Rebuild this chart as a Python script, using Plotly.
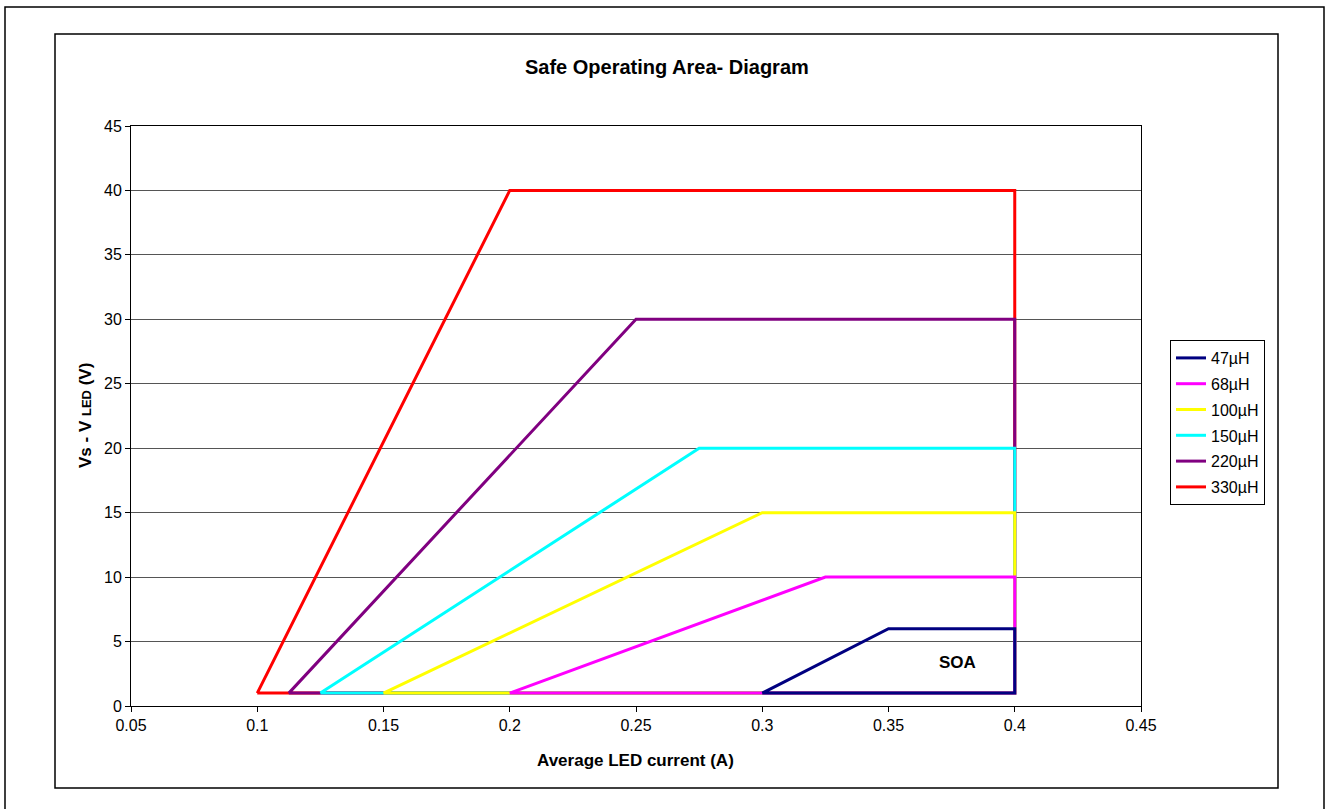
import plotly.graph_objects as go

# Data
series_names = ["47µH", "68µH", "100µH", "150µH", "220µH", "330µH"]
series_colors = ["#000080", "#FF00FF", "#FFFF00", "#00FFFF", "#800080", "#FF0000"]
x_47 = [0.3, 0.35, 0.4, 0.4, 0.3]
y_47 = [1, 6, 6, 1, 1]
x_68 = [0.2, 0.325, 0.4, 0.4, 0.2]
y_68 = [1, 10, 10, 1, 1]
x_100 = [0.15, 0.3, 0.4, 0.4, 0.15]
y_100 = [1, 15, 15, 1, 1]
x_150 = [0.125, 0.275, 0.4, 0.4, 0.125]
y_150 = [1, 20, 20, 1, 1]
x_220 = [0.1125, 0.25, 0.4, 0.4, 0.1125]
y_220 = [1, 30, 30, 1, 1]
x_330 = [0.1, 0.2, 0.4, 0.4, 0.1]
y_330 = [1, 40, 40, 1, 1]
xs = [x_47, x_68, x_100, x_150, x_220, x_330]
ys = [y_47, y_68, y_100, y_150, y_220, y_330]
x_ticks = [0.05, 0.1, 0.15, 0.2, 0.25, 0.3, 0.35, 0.4, 0.45]
x_tick_labels = ["0.05", "0.1", "0.15", "0.2", "0.25", "0.3", "0.35", "0.4", "0.45"]
y_ticks = [0, 5, 10, 15, 20, 25, 30, 35, 40, 45]

W, H = 1329, 809
L, R, T, B = 131, 1141, 126, 706
pw, ph = R - L, B - T


def px(x):
    return (x - L) / pw


def py(y):
    return (B - y) / ph


FONT = "Liberation Sans, Arial, sans-serif"

fig = go.Figure()
# draw largest first so smaller inductances are on top
for i in reversed(range(len(series_names))):
    fig.add_trace(go.Scatter(
        x=xs[i], y=ys[i], mode="lines", name=series_names[i],
        legendgroup=series_names[i], legendrank=i + 1,
        line=dict(color=series_colors[i], width=3),
        hoverinfo="x+y+name",
    ))

shapes = [
    # outer frame
    dict(type="rect", xref="paper", yref="paper", x0=px(5), x1=px(1324), y0=py(7), y1=py(815),
         line=dict(color="black", width=1.5), layer="below"),
    # chart frame
    dict(type="rect", xref="paper", yref="paper", x0=px(55), x1=px(1278), y0=py(34), y1=py(788),
         line=dict(color="black", width=1.5), layer="below"),
]

annotations = [
    dict(text="<b>Safe Operating Area- Diagram</b>", xref="paper", yref="paper",
         x=px(667), y=py(67), showarrow=False, font=dict(size=20, family=FONT, color="black"),
         xanchor="center", yanchor="middle"),
    dict(text="<b>Average LED current (A)</b>", xref="paper", yref="paper",
         x=px(635), y=py(760), showarrow=False, font=dict(size=17, family=FONT, color="black"),
         xanchor="center", yanchor="middle"),
    dict(text="<b>Vs - V <span style='font-size:13px'>LED</span> (V)</b>", xref="paper", yref="paper",
         x=px(85), y=py(416), showarrow=False, textangle=-90,
         font=dict(size=17, family=FONT, color="black"),
         xanchor="center", yanchor="middle"),
    dict(text="<b>SOA</b>", xref="x", yref="y", x=0.3775, y=3.35, showarrow=False,
         font=dict(size=17, family=FONT, color="black"), xanchor="center", yanchor="middle"),
]

fig.update_layout(
    width=W, height=H,
    margin=dict(l=L, r=W - R, t=T, b=H - B, pad=0),
    paper_bgcolor="white", plot_bgcolor="white",
    font=dict(family=FONT, size=16, color="black"),
    showlegend=True,
    legend=dict(
        x=px(1170), y=py(340), xanchor="left", yanchor="top",
        traceorder="grouped", tracegroupgap=2,
        bordercolor="black", borderwidth=1, bgcolor="white",
        font=dict(size=16, family=FONT, color="black"),
        itemwidth=30,
    ),
    shapes=shapes,
    annotations=annotations,
    xaxis=dict(
        range=[0.05, 0.45], tickvals=x_ticks, ticktext=x_tick_labels,
        showgrid=False, zeroline=False,
        showline=True, linecolor="black", linewidth=1, mirror=True,
        ticks="outside", ticklen=5, tickcolor="black",
        tickfont=dict(size=16, family=FONT, color="black"),
    ),
    yaxis=dict(
        range=[0, 45], tickvals=y_ticks,
        showgrid=True, gridcolor="#555555", gridwidth=1, zeroline=False,
        showline=True, linecolor="black", linewidth=1, mirror=True,
        ticks="outside", ticklen=5, tickcolor="black",
        tickfont=dict(size=16, family=FONT, color="black"),
    ),
)

fig.write_html(
    "out.html",
    config={"displayModeBar": False},
    post_script="document.body.style.margin='0';document.body.style.overflow='hidden';",
)
